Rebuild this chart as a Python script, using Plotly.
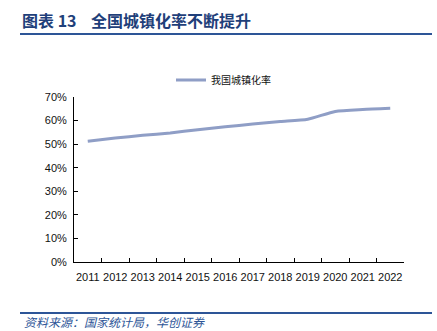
import plotly.graph_objects as go

# 全国城镇化率（%）
years = ["2011", "2012", "2013", "2014", "2015", "2016",
         "2017", "2018", "2019", "2020", "2021", "2022"]
urban_rate = [51.27, 52.57, 53.73, 54.77, 56.10, 57.35,
              58.52, 59.58, 60.60, 63.89, 64.72, 65.22]
y_ticks = [0, 10, 20, 30, 40, 50, 60, 70]
series_name = "我国城镇化率"
title_text = "图表 13    全国城镇化率不断提升"
source_text = "资料来源：国家统计局，华创证券"

W, H = 437, 331
L, R, T, B = 74, 33, 97, 69

def px(x):
    return (x - L) / (W - L - R)

def py(y):
    return (H - B - y) / (H - T - B)

fig = go.Figure()
fig.add_trace(go.Scatter(
    x=years, y=urban_rate, mode="lines", name=series_name,
    line=dict(color="#8f9ec6", width=3, shape="spline", smoothing=0.6),
))

navy = "#1f3f7a"
fig.update_layout(
    width=W, height=H,
    margin=dict(l=L, r=R, t=T, b=B),
    paper_bgcolor="white", plot_bgcolor="white",
    font=dict(family="Liberation Sans, Arial", size=11, color="#111111"),
    showlegend=True,
    legend=dict(orientation="h", x=px(171), y=py(80), xanchor="left", yanchor="middle",
                font=dict(family="Noto Sans CJK SC", size=10, color="#111111"),
                bgcolor="rgba(0,0,0,0)", itemwidth=30),
    xaxis=dict(type="category", range=[-0.5, len(years) - 0.5],
               showline=True, linecolor="#000000", linewidth=1,
               ticks="inside", ticklen=4, tickcolor="#000000", tickson="boundaries",
               tickangle=0, ticklabelstandoff=5,
               showgrid=False, zeroline=False, tickfont=dict(size=11)),
    yaxis=dict(range=[0, 70], tickvals=y_ticks, ticktext=[f"{v}%" for v in y_ticks],
               showline=True, linecolor="#000000", linewidth=1,
               ticks="inside", ticklen=4, tickcolor="#000000", ticklabelstandoff=4,
               showgrid=False, zeroline=False, tickfont=dict(size=11)),
    shapes=[
        dict(type="line", xref="paper", yref="paper", x0=px(20), x1=px(432),
             y0=py(34), y1=py(34), line=dict(color="#2d5597", width=2)),
        dict(type="line", xref="paper", yref="paper", x0=px(20), x1=px(432),
             y0=py(313), y1=py(313), line=dict(color="#2d5597", width=2)),
    ],
    annotations=[
        dict(text=title_text, xref="paper", yref="paper", x=px(20), y=py(20),
             xanchor="left", yanchor="middle", showarrow=False,
             font=dict(family="Noto Sans CJK SC", size=16, color=navy, weight="bold")),
        dict(text=source_text, xref="paper", yref="paper", x=px(22), y=py(332),
             xanchor="left", yanchor="bottom", showarrow=False,
             font=dict(family="Noto Sans CJK SC", size=12, color="#2d5597", style="italic")),
    ],
)

fig.write_html("out.html")
